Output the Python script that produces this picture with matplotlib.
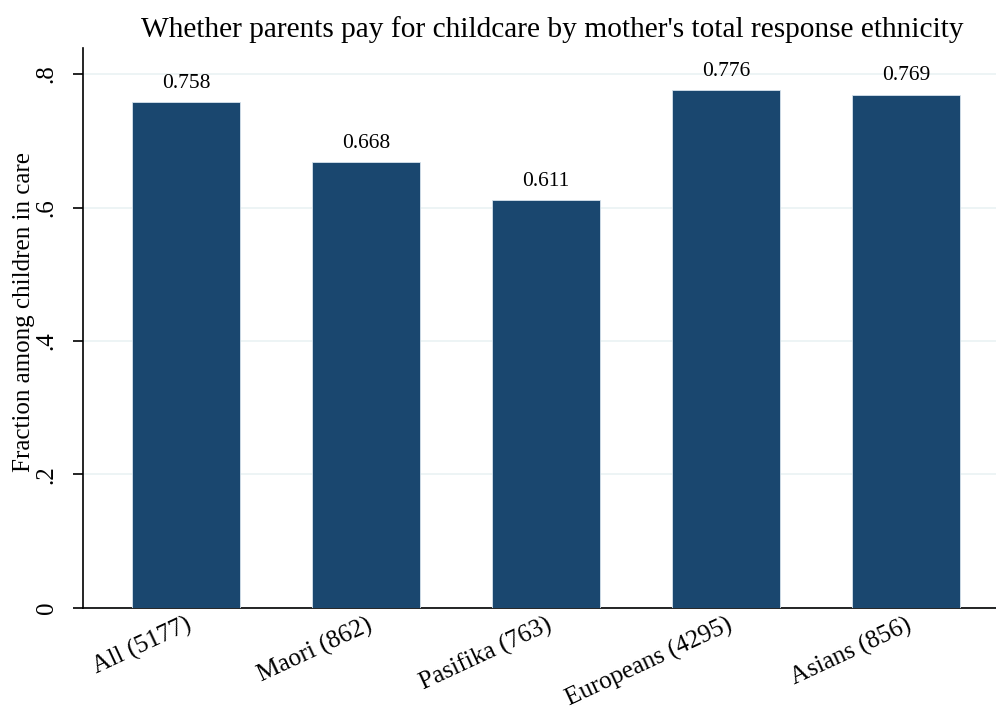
import numpy as np
import matplotlib.pyplot as plt

# fraction paying for childcare, by mother's ethnicity
groups = ["All (5177)", "Maori (862)", "Pasifika (763)", "Europeans (4295)", "Asians (856)"]
fractions = [0.758, 0.668, 0.611, 0.776, 0.769]
yticks = [0, 0.2, 0.4, 0.6, 0.8]
yticklabels = ["0", ".2", ".4", ".6", ".8"]

plt.rcParams["font.family"] = ["Liberation Serif", "DejaVu Serif"]

fig = plt.figure(figsize=(9.96, 7.11), dpi=100)
ax = fig.add_axes([0.0833, 0.1449, 0.9167, 0.7876])

x = np.arange(len(groups))
bars = ax.bar(x, fractions, width=0.6, color="#1a476f", edgecolor="#d5e2ec", linewidth=0.6, zorder=3)
for xi, v in zip(x, fractions):
    ax.text(xi, v + 0.014, "%.3f" % v, ha="center", va="bottom", fontsize=15.5)

ax.set_xlim(-0.572, 4.5)
ax.set_ylim(0, 0.839)
ax.set_yticks(yticks)
ax.set_yticklabels(yticklabels, rotation=90, va="center", fontsize=18)
ax.set_xticks(x)
ax.set_xticklabels(groups, rotation=25, ha="right", rotation_mode="anchor", fontsize=18.3)
ax.tick_params(axis="x", length=0, pad=4)
ax.tick_params(axis="y", length=7.3, width=1.2, direction="out", pad=11)
ax.grid(axis="y", color="#eaf2f3", linewidth=1.2, zorder=0)

ax.spines["top"].set_visible(False)
ax.spines["right"].set_visible(False)
ax.spines["left"].set_linewidth(1.2)
ax.spines["bottom"].set_linewidth(1.2)

ax.set_ylabel("Fraction among children in care", fontsize=18)
ax.yaxis.set_label_coords(-0.053, 0.529)
ax.set_title("Whether parents pay for childcare by mother's total response ethnicity",
             fontsize=21.2, pad=8, x=0.5137)

fig.savefig("out.png", dpi=100)
